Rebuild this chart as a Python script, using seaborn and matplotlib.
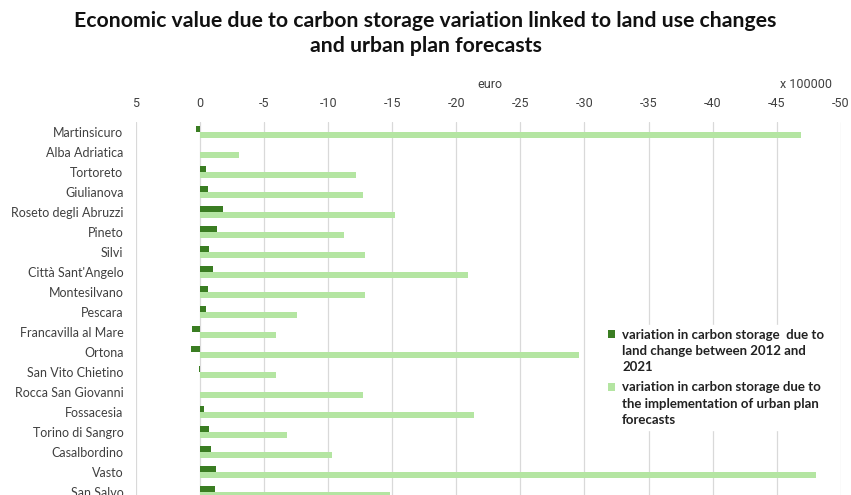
import matplotlib
matplotlib.use("Agg")
import matplotlib.pyplot as plt
from matplotlib.legend_handler import HandlerPatch
from matplotlib.patches import Rectangle
import seaborn as sns
import pandas as pd

# Municipalities along the Abruzzo coast, north to south
municipalities = [
    "Martinsicuro", "Alba Adriatica", "Tortoreto", "Giulianova",
    "Roseto degli Abruzzi", "Pineto", "Silvi", "Città Sant'Angelo",
    "Montesilvano", "Pescara", "Francavilla al Mare", "Ortona",
    "San Vito Chietino", "Rocca San Giovanni", "Fossacesia",
    "Torino di Sangro", "Casalbordino", "Vasto", "San Salvo",
]

# Economic value (x 100000 euro)
land_change_2012_2021 = [
    0.35, 0.0, -0.45, -0.6, -1.8, -1.3, -0.7, -1.0, -0.6, -0.45,
    0.6, 0.7, 0.12, -0.03, -0.33, -0.7, -0.85, -1.25, -1.15,
]
urban_plan_forecasts = [
    -46.9, -3.0, -12.2, -12.7, -15.2, -11.2, -12.9, -20.9, -12.9, -7.55,
    -5.9, -29.6, -5.9, -12.7, -21.4, -6.8, -10.3, -48.1, -14.8,
]

series_names = [
    "variation in carbon storage  due to\nland change between 2012 and\n2021",
    "variation in carbon storage due to\nthe implementation of urban plan\nforecasts",
]
x_ticks = [5, 0, -5, -10, -15, -20, -25, -30, -35, -40, -45, -50]
x_tick_labels = ["5", "0", "-5", "-10", "-15", "-20", "-25", "-30",
                 "-35", "-40", "-45", "-50"]

title = ("Economic value due to carbon storage variation linked to land use changes\n"
         "and urban plan forecasts")

dark_green = "#3A7D22"
light_green = "#B4E5A2"
tick_font = ["Roboto", "DejaVu Sans"]

df = pd.DataFrame({
    "municipality": municipalities * 2,
    "value": land_change_2012_2021 + urban_plan_forecasts,
    "series": [series_names[0]] * len(municipalities)
              + [series_names[1]] * len(municipalities),
})

sns.set_theme(style="white")
plt.rcParams["font.family"] = ["Lato", "DejaVu Sans"]

fig = plt.figure(figsize=(8.51, 4.95), dpi=100)
ax = fig.add_axes([136 / 851, 1 - 502 / 495, 704.7 / 851, 380 / 495])

sns.barplot(
    data=df, x="value", y="municipality", hue="series", orient="h",
    palette=[dark_green, light_green], width=0.62, gap=0, saturation=1,
    linewidth=0, edgecolor="none", ax=ax, zorder=3,
)

ax.set_xlim(5, -50)
ax.set_ylim(18.5, -0.5)
ax.xaxis.tick_top()
ax.set_xticks(x_ticks)
ax.set_xticklabels(x_tick_labels, family=tick_font)
ax.tick_params(axis="x", length=0, pad=8.5, labelsize=9, labelcolor="#404040")
ax.tick_params(axis="y", length=0, pad=9, labelsize=9, labelcolor="#404040")
ax.set_xlabel("")
ax.set_ylabel("")
ax.grid(axis="x", color="#D9D9D9", linewidth=0.9, zorder=0)
ax.grid(axis="y", visible=False)
for s in ax.spines.values():
    s.set_visible(False)

fig.text(0.5, 1 - 33.5 / 495, title, ha="center", va="center", fontsize=15.3,
         fontweight="bold", linespacing=1.36, color="#111111")
fig.text(490 / 851, 1 - 84 / 495, "euro", ha="center", va="center",
         fontsize=9, color="#404040", family=tick_font)
fig.text(806 / 851, 1 - 84 / 495, "x 100000", ha="center", va="center",
         fontsize=9, color="#404040", family=tick_font)


class FirstLineSquare(HandlerPatch):
    """Square legend key aligned with the first line of a wrapped label."""

    def __init__(self, shift, **kw):
        super().__init__(**kw)
        self.shift = shift

    def create_artists(self, legend, orig_handle, xdescent, ydescent,
                       width, height, fontsize, trans):
        p = Rectangle((-xdescent, -ydescent + self.shift), width, height,
                      facecolor=orig_handle.get_facecolor(), edgecolor="none",
                      transform=trans)
        return [p]


leg_size = 9.5
line_gap = 1.43
handles, labels = ax.get_legend_handles_labels()
leg = ax.legend(
    handles, labels,
    loc="upper left", bbox_to_anchor=(597 / 851, 1 - 318 / 495),
    bbox_transform=fig.transFigure, frameon=True, fancybox=False,
    edgecolor="white", facecolor="white", framealpha=1,
    handlelength=0.55, handleheight=0.55, handletextpad=0.55,
    labelspacing=0.62, borderpad=0.3,
    prop={"weight": "bold", "size": leg_size},
    handler_map={h: FirstLineSquare(shift=12.4) for h in handles},
)
leg.set_zorder(5)
for t in leg.get_texts():
    t.set_color("#222222")
    t.set_linespacing(line_gap)

fig.savefig("out.png", dpi=100)
